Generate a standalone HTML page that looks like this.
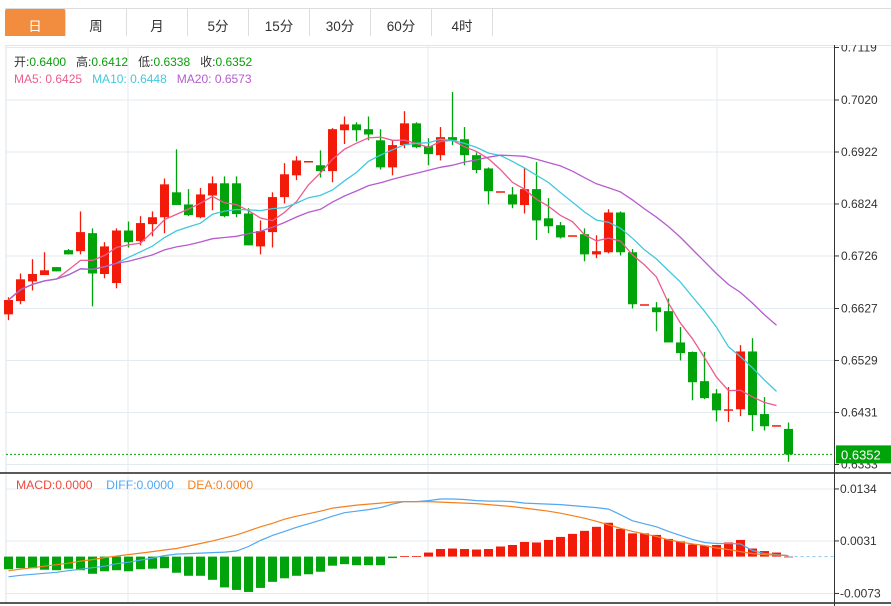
<!DOCTYPE html>
<html><head><meta charset="utf-8"><style>
body{margin:0;width:891px;height:606px;background:#fff;overflow:hidden;font-family:"Liberation Sans","Noto Sans CJK SC",sans-serif;}
#tabs{position:absolute;left:5px;top:8px;width:886px;height:36px;border-top:1px solid #ddd;border-bottom:1px solid #ddd;}
.tab{position:absolute;top:0;height:36px;line-height:36px;text-align:center;font-size:13.5px;color:#333;border-right:1px solid #ddd;box-sizing:border-box;}
.tab.on{background:#f28c3f;color:#fff;border-radius:2px;}
svg{position:absolute;left:0;top:0;}
</style></head><body>
<div id="tabs">
<div class="tab on" style="left:0;width:61px">日</div>
<div class="tab" style="left:61px;width:61px">周</div>
<div class="tab" style="left:122px;width:61px">月</div>
<div class="tab" style="left:183px;width:61px">5分</div>
<div class="tab" style="left:244px;width:61px">15分</div>
<div class="tab" style="left:305px;width:61px">30分</div>
<div class="tab" style="left:366px;width:61px">60分</div>
<div class="tab" style="left:427px;width:61px">4时</div>
</div>
<svg id="chart" width="891" height="606"></svg>
<script>
const opens=[0.6616,0.6641,0.6678,0.6690,0.6705,0.6737,0.6735,0.6769,0.6692,0.6675,0.6774,0.6754,0.6786,0.6799,0.6846,0.6823,0.6799,0.6840,0.6863,0.6863,0.6806,0.6744,0.6771,0.6837,0.6878,0.6905,0.6897,0.6886,0.6963,0.6974,0.6965,0.6944,0.6893,0.6935,0.6976,0.6933,0.6916,0.6950,0.6946,0.6916,0.6891,0.6848,0.6842,0.6822,0.6852,0.6797,0.6784,0.6765,0.6767,0.6729,0.6733,0.6808,0.6733,0.6635,0.6629,0.6622,0.6563,0.6545,0.6490,0.6467,0.6437,0.6437,0.6546,0.6428,0.6407,0.6400];
const highs=[0.6648,0.6693,0.6720,0.6733,0.6705,0.6739,0.6810,0.6778,0.6752,0.6778,0.6791,0.6801,0.6810,0.6872,0.6927,0.6852,0.6854,0.6876,0.6876,0.6876,0.6816,0.6793,0.6846,0.6901,0.6914,0.6905,0.6925,0.6967,0.6989,0.6978,0.6989,0.6965,0.6944,0.6999,0.6978,0.6948,0.6969,0.7035,0.6969,0.6921,0.6893,0.6848,0.6856,0.6891,0.6903,0.6835,0.6790,0.6765,0.6778,0.6765,0.6814,0.6810,0.6739,0.6635,0.6639,0.6646,0.6592,0.6546,0.6545,0.6475,0.6479,0.6558,0.6571,0.6460,0.6407,0.6412];
const lows=[0.6605,0.6635,0.6661,0.6690,0.6697,0.6729,0.6729,0.6631,0.6684,0.6665,0.6742,0.6746,0.6763,0.6769,0.6822,0.6801,0.6797,0.6812,0.6799,0.6799,0.6746,0.6729,0.6742,0.6825,0.6869,0.6905,0.6874,0.6865,0.6937,0.6942,0.6944,0.6889,0.6878,0.6929,0.6929,0.6897,0.6906,0.6935,0.6897,0.6882,0.6823,0.6848,0.6816,0.6806,0.6756,0.6769,0.6759,0.6765,0.6716,0.6722,0.6731,0.6727,0.6627,0.6635,0.6584,0.6563,0.6529,0.6454,0.6456,0.6414,0.6413,0.6424,0.6396,0.6397,0.6407,0.6338];
const closes=[0.6643,0.6682,0.6692,0.6699,0.6697,0.6729,0.6771,0.6693,0.6744,0.6774,0.6752,0.6788,0.6799,0.6861,0.6822,0.6803,0.6842,0.6863,0.6801,0.6805,0.6746,0.6773,0.6837,0.6880,0.6906,0.6905,0.6886,0.6965,0.6974,0.6963,0.6955,0.6893,0.6935,0.6976,0.6931,0.6918,0.6950,0.6944,0.6916,0.6888,0.6848,0.6848,0.6823,0.6852,0.6793,0.6782,0.6761,0.6765,0.6729,0.6735,0.6808,0.6733,0.6635,0.6635,0.6620,0.6563,0.6543,0.6488,0.6458,0.6435,0.6437,0.6546,0.6426,0.6405,0.6407,0.6352];
const macdHist=[-0.0025,-0.0023,-0.0023,-0.0026,-0.0027,-0.0024,-0.0027,-0.0034,-0.0029,-0.0027,-0.0029,-0.0025,-0.0024,-0.0023,-0.0032,-0.0038,-0.0038,-0.0046,-0.0061,-0.0066,-0.0070,-0.0062,-0.0050,-0.0043,-0.0038,-0.0035,-0.0030,-0.0018,-0.0015,-0.0017,-0.0017,-0.0017,-0.0003,0.0001,0.0001,0.0008,0.0015,0.0016,0.0015,0.0014,0.0015,0.0020,0.0023,0.0029,0.0028,0.0033,0.0039,0.0045,0.0051,0.0059,0.0067,0.0055,0.0046,0.0046,0.0043,0.0035,0.0030,0.0024,0.0022,0.0023,0.0028,0.0033,0.0016,0.0011,0.0008,0.0000];
const diffLine=[-0.0040,-0.0037,-0.0035,-0.0033,-0.0031,-0.0028,-0.0025,-0.0022,-0.0019,-0.0014,-0.0011,-0.0007,-0.0003,0.0002,0.0005,0.0006,0.0007,0.0008,0.0009,0.0011,0.0020,0.0032,0.0042,0.0050,0.0058,0.0065,0.0072,0.0080,0.0087,0.0090,0.0093,0.0097,0.0104,0.0109,0.0109,0.0111,0.0114,0.0114,0.0113,0.0111,0.0110,0.0110,0.0109,0.0106,0.0105,0.0104,0.0103,0.0101,0.0099,0.0097,0.0094,0.0083,0.0071,0.0065,0.0059,0.0050,0.0042,0.0034,0.0028,0.0026,0.0026,0.0025,0.0012,0.0006,0.0004,0.0002];
const deaLine=[-0.0028,-0.0025,-0.0022,-0.0019,-0.0016,-0.0013,-0.0009,-0.0006,-0.0002,0.0001,0.0004,0.0007,0.0010,0.0013,0.0016,0.0021,0.0026,0.0031,0.0037,0.0043,0.0051,0.0059,0.0066,0.0074,0.0080,0.0085,0.0090,0.0096,0.0099,0.0102,0.0104,0.0106,0.0108,0.0109,0.0109,0.0109,0.0108,0.0107,0.0106,0.0105,0.0103,0.0101,0.0099,0.0096,0.0093,0.0090,0.0086,0.0081,0.0076,0.0070,0.0063,0.0056,0.0050,0.0045,0.0040,0.0033,0.0029,0.0025,0.0022,0.0017,0.0014,0.0010,0.0006,0.0004,0.0003,0.0002];
const priceTicks=[0.7119,0.7020,0.6922,0.6824,0.6726,0.6627,0.6529,0.6431,0.6333];
const macdTicks=[0.0134,0.0031,-0.0073];

const svg=document.getElementById('chart');
const NS='http://www.w3.org/2000/svg';
function mk(tag,attrs,parent){const e=document.createElementNS(NS,tag);for(const k in attrs)e.setAttribute(k,attrs[k]);(parent||svg).appendChild(e);return e;}
const RED='#f21b0a',GREEN='#00a30a';
const xOf=i=>8.5+12*i;
const yP=p=>100+(0.7020-p)/0.0001885;
const yM=v=>556.6-v*5049;

const grid=mk('g',{});


priceTicks.forEach(t=>mk('line',{x1:6,x2:834,y1:yP(t),y2:yP(t),stroke:'#e3ebf2','stroke-width':1},grid));
macdTicks.forEach(t=>mk('line',{x1:6,x2:834,y1:yM(t),y2:yM(t),stroke:'#e3ebf2','stroke-width':1},grid));
[128,428,717].forEach(x=>mk('line',{x1:x,x2:x,y1:45,y2:603,stroke:'#e3ebf2','stroke-width':1},grid));
mk('line',{x1:6,x2:6,y1:45,y2:603,stroke:'#dde3ea'},grid);
mk('line',{x1:6,x2:891,y1:45,y2:45,stroke:'#e6ebf0'},grid);

const cg=mk('g',{});


closes.forEach((c,i)=>{
  const o=opens[i],up=c>=o,col=up?RED:GREEN,x=xOf(i);
  const g=mk('g',{},cg);
  
  
  mk('line',{x1:x,x2:x,y1:yP(highs[i]),y2:yP(lows[i]),stroke:col,'stroke-width':1.3},g);
  const t=yP(Math.max(o,c)),b=yP(Math.min(o,c));
  mk('rect',{x:x-4.5,y:t,width:9,height:Math.max(1.5,b-t),fill:col},g);
});

function ma(n,i){const s=Math.max(0,i-n+1);let sum=0;for(let k=s;k<=i;k++)sum+=closes[k];return sum/(i-s+1);}
[[5,'#ec5b8e','ma5-line'],[10,'#42c8dc','ma10-line'],[20,'#b65ccd','ma20-line']].forEach(([n,col,name])=>{
  let d='';closes.forEach((c,i)=>{if(i<closes.length-1)d+=(i?'L':'M')+xOf(i)+' '+yP(ma(n,i)).toFixed(1);});
  const p=mk('path',{d:d,fill:'none',stroke:col,'stroke-width':1.3});
  
  
});

const lastY=yP(closes[closes.length-1]);
mk('line',{x1:6,x2:834,y1:lastY,y2:lastY,stroke:GREEN,'stroke-dasharray':'2,2','stroke-width':1});

const hg=mk('g',{});


macdHist.forEach((v,i)=>{
  const y0=yM(0),y1=yM(v);
  const r=mk('rect',{x:xOf(i)-4.5,y:Math.min(y0,y1),width:9,height:Math.max(0.8,Math.abs(y1-y0)),fill:v>=0?RED:GREEN},hg);
  
  
});
mk('line',{x1:xOf(65),x2:834,y1:yM(0),y2:yM(0),stroke:'#8cc8ee','stroke-dasharray':'3,3'});
[[diffLine,'#52a8f2','diff-line'],[deaLine,'#f4801f','dea-line']].forEach(([arr,col,name])=>{
  let d='';arr.forEach((v,i)=>d+=(i?'L':'M')+xOf(i)+' '+yM(v).toFixed(1));
  const p=mk('path',{d:d,fill:'none',stroke:col,'stroke-width':1.2});
  
  
});

mk('rect',{x:0,y:473,width:891,height:2,fill:'#fff'});
mk('line',{x1:0,x2:891,y1:473,y2:473,stroke:'#222','stroke-width':1.5});
mk('line',{x1:0,x2:891,y1:603,y2:603,stroke:'#222','stroke-width':1.5});
mk('line',{x1:834.5,x2:834.5,y1:40,y2:606,stroke:'#333','stroke-width':1});
const ax=mk('g',{'font-size':12,fill:'#333','font-family':'Liberation Sans, sans-serif'});


priceTicks.forEach(t=>{const y=yP(t);mk('line',{x1:834,x2:839,y1:y,y2:y,stroke:'#333'},ax);const tx=mk('text',{x:841,y:y+4},ax);tx.textContent=t.toFixed(4);});
macdTicks.forEach(t=>{const y=yM(t);mk('line',{x1:834,x2:839,y1:y,y2:y,stroke:'#333'},ax);const tx=mk('text',{x:840,y:y+4},ax);tx.textContent=t.toFixed(4);});
mk('rect',{x:0,y:36,width:891,height:9,fill:'#fff'});
mk('line',{x1:834.5,x2:834.5,y1:45,y2:50,stroke:'#333'});
mk('rect',{x:836,y:lastY-9,width:55,height:18,fill:GREEN});
const lt=mk('text',{x:841,y:lastY+5,'font-size':13,fill:'#fff'});


lt.textContent=closes[closes.length-1].toFixed(4);
</script>
<div style="position:absolute;left:14px;top:53px;font-size:12px;color:#333">开:<span style="color:#0a9d0a">0.6400</span>&nbsp;&nbsp;&nbsp;高:<span style="color:#0a9d0a">0.6412</span>&nbsp;&nbsp;&nbsp;低:<span style="color:#0a9d0a">0.6338</span>&nbsp;&nbsp;&nbsp;收:<span style="color:#0a9d0a">0.6352</span></div>
<div style="position:absolute;left:14px;top:72px;font-size:12px"><span style="color:#ec5b8e">MA5: 0.6425</span>&nbsp;&nbsp;&nbsp;<span style="color:#42c8dc">MA10: 0.6448</span>&nbsp;&nbsp;&nbsp;<span style="color:#b65ccd">MA20: 0.6573</span></div>
<div style="position:absolute;left:16px;top:478px;font-size:12.2px"><span style="color:#ef4a3a">MACD:0.0000</span>&nbsp;&nbsp;&nbsp;&nbsp;<span style="color:#52a8f2">DIFF:0.0000</span>&nbsp;&nbsp;&nbsp;&nbsp;<span style="color:#f4801f">DEA:0.0000</span></div>
</body></html>
